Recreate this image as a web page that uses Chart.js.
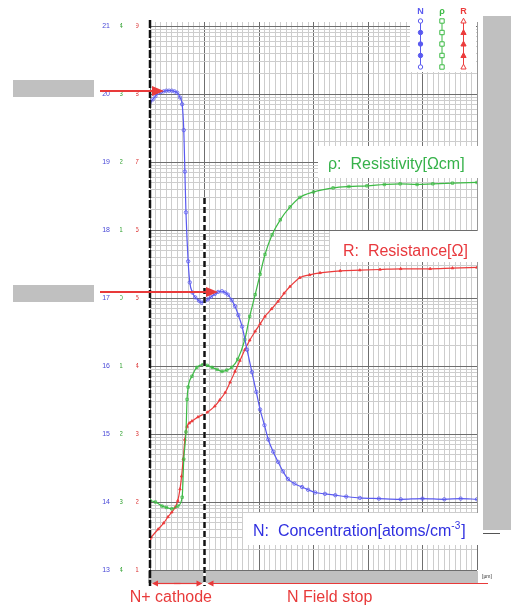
<!DOCTYPE html>
<html>
<head>
<meta charset="utf-8">
<script src="https://cdn.jsdelivr.net/npm/chart.js@4.4.0/dist/chart.umd.min.js"></script>
<style>html,body{margin:0;padding:0;background:#fff;}</style>
</head>
<body>
<canvas id="myChart" width="511" height="606"></canvas>
<script>
// depth in µm, values as log10 exponents
const depthN = [0, 0.5, 1, 1.5, 2, 2.5, 3, 3.5, 4, 4.5, 5, 5.5, 5.9, 6.2, 6.4, 6.6, 7, 7.3, 7.8, 8.3,
  9, 9.5, 10, 10.6, 11.2, 11.9, 12.5, 13.2, 13.8, 14.3, 15, 15.6, 16.2, 16.9, 17.8, 18.7, 19.5, 20.2, 21, 21.7,
  22.6, 23.5, 24.4, 25.3, 26.5, 27.9, 29, 30.3, 32.1, 34, 36, 38.5, 42, 46, 50, 54, 57, 60];
const concN = [19.88, 19.92, 19.97, 20.02, 20.03, 20.04, 20.05, 20.05, 20.05, 20.04, 20.02, 19.95, 19.85, 19.47, 18.86, 18.26, 17.54, 17.23, 17.08, 17.01,
  16.96, 16.93, 16.95, 16.98, 17.02, 17.06, 17.09, 17.10, 17.08, 17.05, 16.97, 16.88, 16.75, 16.58, 16.24, 15.91, 15.62, 15.36, 15.13, 14.92,
  14.74, 14.59, 14.45, 14.34, 14.27, 14.22, 14.18, 14.14, 14.12, 14.10, 14.08, 14.06, 14.05, 14.04, 14.05, 14.04, 14.05, 14.04];

const depthRho = [0, 1, 2.2, 3, 4, 5.1, 5.9, 6.2, 6.6, 6.8, 7, 7.7, 8.6, 9.7, 10.5, 11.4, 12.3, 13.2, 14.1, 15,
  16.1, 17.4, 18.3, 19.3, 20.2, 21.1, 22.4, 23.9, 25.7, 27.5, 30, 33.6, 36.5, 39.8, 43, 45.9, 49, 51.9, 55.5, 60];
const resistivity = [-2.98, -3.00, -3.06, -3.08, -3.10, -3.06, -2.93, -2.37, -1.97, -1.49, -1.31, -1.15, -1.02, -0.98, -0.99, -1.02, -1.05, -1.08, -1.06, -1.02,
  -0.90, -0.61, -0.27, 0.05, 0.35, 0.64, 0.93, 1.15, 1.34, 1.48, 1.56, 1.62, 1.64, 1.65, 1.67, 1.68, 1.67, 1.68, 1.69, 1.70];

const depthR = [0, 0.2, 1.5, 2.5, 3.3, 4, 4.6, 5.1, 5.5, 5.8, 6.1, 6.4, 6.8, 7.2, 7.7, 8.8, 10.5, 11.9, 12.8, 13.8,
  14.7, 15.6, 16.5, 17.4, 18.3, 19.3, 20.2, 21.1, 22.3, 23.5, 24.6, 25.7, 27.5, 29.3, 31.2, 34.9, 38.5, 42.2, 46, 51.4, 55.5, 60];
const resistance = [1.46, 1.48, 1.60, 1.69, 1.78, 1.85, 1.92, 2.02, 2.19, 2.38, 2.63, 2.92, 3.11, 3.16, 3.19, 3.25, 3.32, 3.41, 3.50, 3.61,
  3.76, 3.92, 4.08, 4.24, 4.38, 4.51, 4.62, 4.73, 4.84, 4.95, 5.07, 5.17, 5.30, 5.34, 5.37, 5.40, 5.41, 5.42, 5.43, 5.43, 5.44, 5.45];

const ticksN = [13, 14, 15, 16, 17, 18, 19, 20, 21];
const ticksRho = [-4, -3, -2, -1, 0, 1, 2, 3, 4];
const ticksR = [1, 2, 3, 4, 5, 6, 7, 8, 9];

const FONT = '"Liberation Sans", Arial, sans-serif';
const BLUE = '#5a5af0', GREEN = '#3dba45', RED = '#ec3b3b';

const toPts = (xs, ys) => xs.map((x, i) => ({ x: x, y: ys[i] }));

// log style minor grid: decade + log10(k)
function logTicks(list) {
  const out = [];
  for (let i = 0; i < list.length - 1; i++) {
    for (let k = 1; k < 10; k++) out.push({ value: list[i] + Math.log10(k) });
  }
  out.push({ value: list[list.length - 1] });
  return out;
}
const isMajor = v => Math.abs(v - Math.round(v)) < 1e-9;

function arrow(ctx, x1, y, x2, len, half) {
  const dir = Math.sign(x2 - x1);
  ctx.beginPath();
  ctx.moveTo(x1, y);
  ctx.lineTo(x2 - dir * len * 0.6, y);
  ctx.stroke();
  ctx.beginPath();
  ctx.moveTo(x2, y);
  ctx.lineTo(x2 - dir * len, y - half);
  ctx.lineTo(x2 - dir * len, y + half);
  ctx.closePath();
  ctx.fill();
}

const overlay = {
  id: 'overlay',
  afterDraw(chart) {
    const ctx = chart.ctx;
    const a = chart.chartArea;
    const xs = chart.scales.x;
    const x0 = xs.getPixelForValue(0), x10 = xs.getPixelForValue(10);
    ctx.save();

    // grey masks
    ctx.fillStyle = '#c0c0c0';
    ctx.fillRect(13, 80, 81, 17);
    ctx.fillRect(13, 285, 81, 17);
    ctx.fillRect(483, 16, 28, 514);
    ctx.fillRect(x0 - 2, a.bottom + 1, a.right - x0 + 3, 12);
    ctx.strokeStyle = '#555';
    ctx.lineWidth = 1;
    ctx.beginPath(); ctx.moveTo(483, 533.5); ctx.lineTo(500, 533.5); ctx.stroke();
    ctx.strokeStyle = '#999';
    ctx.beginPath(); ctx.moveTo(a.right + 0.5, a.top); ctx.lineTo(a.right + 0.5, 533); ctx.stroke();

    ctx.fillStyle = '#333';
    ctx.font = '5px ' + FONT;
    ctx.textBaseline = 'middle';
    ctx.fillText('[µm]', 482, a.bottom + 7);

    // label boxes
    ctx.fillStyle = '#fff';
    ctx.fillRect(318, 146, 160, 32);
    ctx.fillRect(330, 231, 148, 31);
    ctx.fillRect(243, 513, 236, 32);
    ctx.fillRect(410, 0, 66, 72);

    ctx.textBaseline = 'alphabetic';
    ctx.font = '16px ' + FONT;
    ctx.fillStyle = '#36b24a';
    ctx.fillText('ρ:  Resistivity[Ωcm]', 328, 169);
    ctx.fillStyle = '#e8383d';
    ctx.fillText('R:  Resistance[Ω]', 343, 256);
    ctx.fillStyle = '#2f2fe0';
    const s1 = 'N:  Concentration[atoms/cm';
    ctx.fillText(s1, 253, 536);
    let w = ctx.measureText(s1).width;
    ctx.font = '10px ' + FONT;
    ctx.fillText('-3', 253 + w, 529);
    const w2 = ctx.measureText('-3').width;
    ctx.font = '16px ' + FONT;
    ctx.fillText(']', 253 + w + w2 + 1, 536);

    // dashed boundary lines
    ctx.lineWidth = 2.5;
    ctx.strokeStyle = '#111';
    ctx.setLineDash([8, 2]);
    ctx.beginPath(); ctx.moveTo(x0, 20); ctx.lineTo(x0, 586); ctx.stroke();
    ctx.setLineDash([]);
    ctx.strokeStyle = '#fff';
    ctx.beginPath(); ctx.moveTo(x10, 198); ctx.lineTo(x10, 586); ctx.stroke();
    ctx.strokeStyle = '#111';
    ctx.setLineDash([6, 3]);
    ctx.beginPath(); ctx.moveTo(x10, 198); ctx.lineTo(x10, 586); ctx.stroke();
    ctx.setLineDash([]);

    // red arrows
    ctx.strokeStyle = '#e83a3a';
    ctx.fillStyle = '#e83a3a';
    ctx.lineWidth = 2;
    arrow(ctx, 100, 91, 164, 12, 5);
    arrow(ctx, 100, 292, 218, 12, 5);
    ctx.lineWidth = 1.2;
    arrow(ctx, x10 - 24, 583.5, x0 + 2, 6, 3);
    arrow(ctx, x0 + 24, 583.5, x10 - 2, 6, 3);
    arrow(ctx, 488, 583.5, x10 + 3, 6, 3);

    ctx.font = '16px ' + FONT;
    ctx.textAlign = 'right';
    ctx.fillText('N+ cathode', 212, 602);
    ctx.textAlign = 'left';
    ctx.fillText('N Field stop', 287, 602);

    // legend
    const cols = [[420.5, 'N', BLUE, 'circle'], [442, 'ρ', GREEN, 'rect'], [463.5, 'R', RED, 'triangle']];
    const rows = [21, 32.5, 44, 55.5, 67];
    ctx.textAlign = 'center';
    ctx.font = 'bold 9px ' + FONT;
    cols.forEach(([cx, name, col, shape]) => {
      ctx.fillStyle = col;
      ctx.fillText(name, cx, 14);
      ctx.strokeStyle = col;
      ctx.lineWidth = 1;
      ctx.beginPath(); ctx.moveTo(cx, rows[0]); ctx.lineTo(cx, rows[4]); ctx.stroke();
      rows.forEach((ry, i) => {
        const filled = i > 0 && i < 4 && shape !== 'rect';
        ctx.beginPath();
        if (shape === 'circle') ctx.arc(cx, ry, 2.2, 0, Math.PI * 2);
        else if (shape === 'rect') ctx.rect(cx - 2.2, ry - 2.2, 4.4, 4.4);
        else { ctx.moveTo(cx, ry - 2.8); ctx.lineTo(cx + 2.6, ry + 2); ctx.lineTo(cx - 2.6, ry + 2); ctx.closePath(); }
        ctx.fillStyle = filled ? col : '#fff';
        ctx.fill();
        ctx.stroke();
      });
    });
    ctx.restore();
  }
};

const gridColor = c => (c.tick && isMajor(c.tick.value) ? '#6e6e6e' : '#cdcdcd');
const signed = v => (v < 0 ? '\u2212' + Math.abs(v) : String(v));

new Chart(document.getElementById('myChart'), {
  type: 'line',
  data: {
    datasets: [
      {
        label: 'N', data: toPts(depthN, concN), yAxisID: 'y',
        borderColor: BLUE, borderWidth: 1.2, cubicInterpolationMode: 'monotone',
        pointStyle: 'circle', pointRadius: 1.7, pointBorderWidth: 0.8,
        pointBorderColor: BLUE, pointBackgroundColor: 'rgba(255,255,255,0)'
      },
      {
        label: 'ρ', data: toPts(depthRho, resistivity), yAxisID: 'y2',
        borderColor: GREEN, borderWidth: 1.2, cubicInterpolationMode: 'monotone',
        pointStyle: 'rect', pointRadius: 1.7, pointBorderWidth: 0.8,
        pointBorderColor: GREEN, pointBackgroundColor: 'rgba(255,255,255,0)'
      },
      {
        label: 'R', data: toPts(depthR, resistance), yAxisID: 'y3',
        borderColor: RED, borderWidth: 1.2, cubicInterpolationMode: 'monotone',
        pointStyle: 'triangle', pointRadius: 1.5, pointBorderWidth: 0.8,
        pointBorderColor: RED, pointBackgroundColor: RED
      }
    ]
  },
  options: {
    responsive: false,
    animation: false,
    layout: { padding: { left: 96, right: 34, top: 22, bottom: 36 } },
    plugins: { legend: { display: false }, tooltip: { enabled: false } },
    scales: {
      x: {
        type: 'linear', min: 0, max: 60,
        afterBuildTicks: s => { s.ticks = Array.from({ length: 61 }, (_, i) => ({ value: i })); },
        afterFit: s => { s.height = 0; },
        ticks: { display: false },
        grid: { drawTicks: false, color: c => (c.tick && c.tick.value % 10 === 0 ? '#6e6e6e' : '#cdcdcd'), lineWidth: 1 },
        border: { display: false }
      },
      y: {
        position: 'left', weight: 2, min: 13, max: 21.06,
        afterBuildTicks: s => { s.ticks = logTicks(ticksN); },
        afterFit: s => { s.width = 24; },
        ticks: { autoSkip: false, color: '#4a4ad8', padding: 10, font: { size: 7, family: FONT },
          callback: v => (isMajor(v) ? Math.round(v) : '') },
        grid: { drawTicks: false, color: gridColor, lineWidth: 1 },
        border: { display: false }
      },
      y2: {
        position: 'left', weight: 1, min: -4, max: 4.06,
        afterBuildTicks: s => { s.ticks = ticksRho.map(v => ({ value: v })); },
        afterFit: s => { s.width = 16; },
        ticks: { autoSkip: false, color: '#3aa63a', padding: 13, font: { size: 7, family: FONT }, callback: signed },
        grid: { display: false, drawTicks: false },
        border: { display: false }
      },
      y3: {
        position: 'left', weight: 0, min: 1, max: 9.06,
        afterBuildTicks: s => { s.ticks = ticksR.map(v => ({ value: v })); },
        afterFit: s => { s.width = 14; },
        ticks: { autoSkip: false, color: '#dd3b3b', padding: 11, font: { size: 7, family: FONT } },
        grid: { display: false, drawTicks: false },
        border: { display: false }
      }
    }
  },
  plugins: [overlay]
});
</script>
</body>
</html>
